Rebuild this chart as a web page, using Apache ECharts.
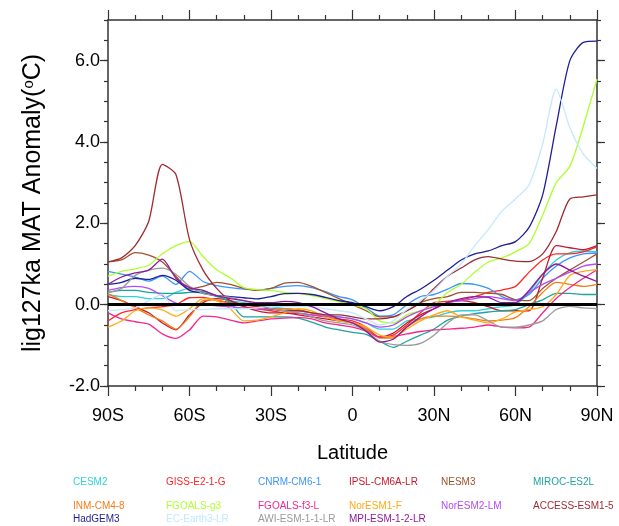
<!DOCTYPE html>
<html>
<head>
<meta charset="utf-8">
<script src="https://cdn.jsdelivr.net/npm/echarts@6/dist/echarts.min.js"></script>
<style>
  html, body { margin: 0; padding: 0; background: #fff; }
  #chart { width: 619px; height: 526px; }
</style>
</head>
<body>
<div id="chart"></div>
<script>
// 纬度 (-90 .. 90, 每5度)
const lats = [-90, -85, -80, -75, -70, -65, -60, -55, -50, -45, -40, -35, -30, -25, -20, -15, -10, -5, 0,
  5, 10, 15, 20, 25, 30, 35, 40, 45, 50, 55, 60, 65, 70, 75, 80, 85, 90];

// 各模式的年平均温度距平 (°C)
const cesm2 = [0.25, 0.2, 0.2, 0.15, 0.15, 0.3, 0.4, 0.3, 0.2, 0.1, 0.05, 0.0, -0.05, -0.1, -0.15, -0.2, -0.25, -0.3, -0.35,
  -0.45, -0.6, -0.6, -0.4, -0.35, -0.3, -0.2, -0.15, -0.15, -0.1, -0.05, 0.0, 0.3, 0.75, 1.1, 1.28, 1.32, 1.3];
const giss = [-0.4, -0.2, -0.12, -0.08, -0.05, 0.0, 0.17, 0.18, 0.1, 0.05, -0.05, -0.1, -0.15, -0.2, -0.22, -0.25, -0.3, -0.35, -0.4,
  -0.55, -0.8, -0.75, -0.5, -0.2, 0.05, 0.08, 0.12, 0.2, 0.3, 0.36, 0.45, 0.8, 1.1, 1.25, 1.25, 1.3, 1.42];
const cnrm = [0.82, 0.75, 0.68, 0.58, 0.7, 0.5, 0.82, 0.57, 0.47, 0.42, 0.38, 0.36, 0.4, 0.45, 0.47, 0.42, 0.32, 0.2, 0.12,
  -0.08, -0.28, -0.25, 0.0, 0.2, 0.25, 0.38, 0.52, 0.5, 0.4, 0.2, 0.12, 0.25, 0.65, 0.95, 1.15, 1.25, 1.27];
const ipsl = [0.2, 0.1, -0.05, -0.2, -0.45, -0.62, -0.25, 0.05, 0.15, 0.1, -0.05, -0.15, -0.2, -0.2, -0.25, -0.3, -0.35, -0.4, -0.45,
  -0.6, -0.8, -0.7, -0.45, -0.25, -0.1, 0.05, 0.1, 0.05, -0.05, -0.15, -0.15, -0.15, 0.65, 1.45, 1.4, 1.35, 1.45];
const nesm3 = [1.05, 1.1, 1.28, 1.22, 1.05, 0.7, 0.38, 0.45, 0.55, 0.5, 0.4, 0.35, 0.4, 0.53, 0.55, 0.45, 0.3, 0.15, 0.0,
  -0.15, -0.3, -0.3, -0.15, 0.05, 0.15, 0.2, 0.3, 0.3, 0.28, 0.25, 0.12, 0.1, 0.4, 0.65, 0.85, 1.05, 1.25];
const miroc = [0.3, 0.35, 0.35, 0.3, 0.28, 0.28, 0.3, 0.32, 0.22, 0.05, -0.3, -0.3, -0.3, -0.3, -0.33, -0.43, -0.55, -0.62, -0.68,
  -0.73, -0.9, -1.05, -0.9, -0.75, -0.6, -0.38, -0.28, -0.22, -0.18, -0.15, -0.12, 0.0, 0.12, 0.28, 0.28, 0.25, 0.25];
const inm = [0.27, 0.1, -0.08, -0.25, -0.4, -0.6, -0.3, 0.1, 0.12, 0.02, 0.0, -0.05, -0.1, -0.1, -0.12, -0.2, -0.3, -0.38, -0.45,
  -0.6, -0.82, -0.82, -0.55, -0.35, -0.28, -0.28, -0.3, -0.35, -0.4, -0.38, -0.32, -0.05, 0.3, 0.55, 0.5, 0.45, 0.5];
const fgoalsG3 = [0.7, 0.82, 0.88, 0.97, 1.25, 1.45, 1.55, 1.18, 0.86, 0.66, 0.42, 0.37, 0.35, 0.3, 0.28, 0.22, 0.15, 0.07, 0.0,
  -0.1, -0.4, -0.45, -0.25, -0.15, 0.0, 0.3, 0.5, 0.8, 1.05, 1.15, 1.3, 1.5, 2.2, 3.0, 3.4, 4.4, 5.55];
const fgoalsF3 = [-0.2, -0.35, -0.42, -0.48, -0.72, -0.83, -0.62, -0.28, -0.3, -0.38, -0.45, -0.4, -0.35, -0.33, -0.32, -0.35, -0.45, -0.5, -0.55,
  -0.65, -0.8, -0.78, -0.72, -0.66, -0.62, -0.6, -0.58, -0.55, -0.5, -0.55, -0.57, -0.55, -0.2, 0.15, 0.42, 0.65, 0.86];
const noresm1 = [-0.55, -0.4, -0.15, -0.08, -0.13, -0.28, -0.1, 0.15, 0.1, -0.1, -0.4, -0.38, -0.3, -0.2, -0.1, -0.15, -0.3, -0.4, -0.45,
  -0.55, -0.75, -0.8, -0.6, -0.4, -0.25, -0.15, -0.3, -0.38, -0.45, -0.35, -0.18, -0.12, -0.05, 0.25, 0.72, 0.82, 0.86];
const noresm2 = [0.35, 0.42, 0.45, 0.4, 0.22, 0.04, 0.0, 0.0, -0.03, -0.05, -0.08, -0.1, -0.12, -0.15, -0.2, -0.25, -0.28, -0.3, -0.35,
  -0.45, -0.55, -0.5, -0.3, -0.15, -0.05, 0.05, 0.1, 0.15, 0.2, 0.15, 0.1, 0.3, 0.5, 0.65, 0.8, 0.95, 1.0];
const access = [1.05, 1.15, 1.45, 2.05, 3.45, 3.2, 1.6, 0.85, 0.4, 0.1, 0.0, -0.05, -0.1, -0.15, -0.15, -0.2, -0.25, -0.25, -0.3,
  -0.35, -0.35, -0.3, -0.15, 0.05, 0.4, 0.7, 0.9, 1.1, 1.18, 1.12, 1.07, 1.06, 1.25, 1.8, 2.6, 2.65, 2.7];
const hadgem3 = [0.5, 0.55, 0.65, 0.62, 0.72, 0.6, 0.35, 0.28, 0.22, 0.2, 0.17, 0.14, 0.2, 0.27, 0.28, 0.25, 0.18, 0.1, 0.05,
  -0.05, -0.15, -0.05, 0.2, 0.38, 0.6, 0.85, 1.1, 1.25, 1.32, 1.45, 1.55, 1.9, 2.7, 4.4, 6.0, 6.45, 6.48];
const ecEarth = [-0.15, -0.12, -0.08, 0.1, 0.25, -0.15, -0.12, -0.12, -0.1, -0.1, -0.1, -0.08, -0.05, -0.05, -0.05, -0.05, -0.1, -0.15, -0.2,
  -0.35, -0.5, -0.4, -0.12, 0.1, 0.35, 0.7, 1.0, 1.45, 1.85, 2.3, 2.6, 2.95, 3.95, 5.3, 4.35, 3.7, 3.35];
const awi = [0.3, 0.4, 0.72, 0.85, 0.9, 0.75, 0.45, 0.28, 0.22, 0.18, 0.1, 0.0, -0.1, -0.15, -0.2, -0.3, -0.4, -0.45, -0.5,
  -0.65, -0.9, -0.98, -1.0, -0.95, -0.75, -0.45, -0.25, -0.25, -0.4, -0.55, -0.55, -0.5, -0.4, -0.12, -0.04, -0.08, -0.1];
const mpi = [0.5, 0.68, 0.78, 0.85, 1.12, 0.65, 0.42, 0.35, 0.22, 0.15, 0.1, 0.05, 0.05, 0.08, 0.05, -0.05, -0.2, -0.35, -0.45,
  -0.65, -0.92, -0.85, -0.55, -0.3, -0.1, 0.05, 0.15, 0.2, 0.18, 0.05, 0.05, 0.35, 0.75, 1.0, 0.85, 0.7, 0.57];

const modelNames = ['CESM2', 'GISS-E2-1-G', 'CNRM-CM6-1', 'IPSL-CM6A-LR', 'NESM3', 'MIROC-ES2L',
  'INM-CM4-8', 'FGOALS-g3', 'FGOALS-f3-L', 'NorESM1-F', 'NorESM2-LM', 'ACCESS-ESM1-5',
  'HadGEM3', 'EC-Earth3-LR', 'AWI-ESM-1-1-LR', 'MPI-ESM-1-2-LR'];
const modelValues = [cesm2, giss, cnrm, ipsl, nesm3, miroc, inm, fgoalsG3, fgoalsF3, noresm1, noresm2, access,
  hadgem3, ecEarth, awi, mpi];

// y轴主刻度
const yMajorTicks = [-2, 0, 2, 4, 6];

// 样式
const colors = ['#2ED2D6', '#FF2626', '#3A93FF', '#C41A2C', '#A0522D', '#1FA3A0',
  '#F27D18', '#ADFF2F', '#F5268C', '#FFAA14', '#B44CF2', '#9E2B30',
  '#1E1E96', '#C3E8FF', '#9A9A9A', '#8E1A9A'];
const legendCols = [73, 166, 258, 349, 441, 533];
const legendRows = [482, 506, 519];
const FONT = '"Liberation Sans", Arial, Helvetica, sans-serif';
const AXIS_COLOR = '#333';

const chart = echarts.init(document.getElementById('chart'));

const latLabel = (v) => {
    if (v < 0) return (-v) + 'S';
    if (v > 0) return v + 'N';
    return '0';
};

const xAxisBase = {
    type: 'value',
    min: -90,
    max: 90,
    interval: 30,
    axisLine: { show: true, onZero: false, lineStyle: { color: AXIS_COLOR, width: 1.5 } },
    axisTick: { show: true, inside: false, length: 10, lineStyle: { color: AXIS_COLOR, width: 1.2 } },
    minorTick: { show: true, splitNumber: 3, length: 5, lineStyle: { color: AXIS_COLOR, width: 1.2 } },
    splitLine: { show: false }
};

const yMajor = {
    type: 'value',
    min: -2,
    max: 7,
    interval: 0.5,
    axisLine: { show: true, onZero: false, lineStyle: { color: AXIS_COLOR, width: 1.5 } },
    axisTick: { show: true, inside: false, length: 8, customValues: yMajorTicks, lineStyle: { color: AXIS_COLOR, width: 1.2 } },
    splitLine: { show: false }
};

const yMinor = {
    type: 'value',
    min: -2,
    max: 7,
    interval: 0.5,
    axisLine: { show: false, onZero: false },
    axisTick: { show: true, inside: false, length: 4, lineStyle: { color: AXIS_COLOR, width: 1.2 } },
    axisLabel: { show: false },
    splitLine: { show: false }
};

const series = modelNames.map((name, i) => ({
    name: name,
    type: 'line',
    xAxisIndex: 0,
    yAxisIndex: 0,
    symbol: 'none',
    smooth: 0.25,
    lineStyle: { color: colors[i], width: 1.3 },
    data: lats.map((lat, j) => [lat, modelValues[i][j]])
}));

// 零线
series.push({
    name: 'zero',
    type: 'line',
    data: [],
    z: 10,
    markLine: {
        silent: true,
        symbol: 'none',
        label: { show: false },
        lineStyle: { color: '#000', width: 3, type: 'solid' },
        data: [{ yAxis: 0 }]
    }
});

// 图例 (彩色文字)
const legendTexts = modelNames.map((name, i) => ({
    type: 'text',
    x: legendCols[i % 6],
    y: legendRows[Math.floor(i / 6)],
    style: {
        text: name,
        fill: colors[i],
        fontSize: 10,
        fontFamily: FONT,
        verticalAlign: 'middle'
    }
}));

chart.setOption({
    animation: false,
    backgroundColor: '#fff',
    grid: { left: 108, right: 22, top: 20, bottom: 140 },
    xAxis: [
        Object.assign({}, xAxisBase, {
            position: 'bottom',
            name: 'Latitude',
            nameLocation: 'middle',
            nameGap: 57,
            nameTextStyle: { fontSize: 20, fontFamily: FONT, color: '#000' },
            axisLabel: { formatter: latLabel, fontSize: 18, fontFamily: FONT, color: '#000', margin: 21 }
        }),
        Object.assign({}, xAxisBase, {
            position: 'top',
            axisLabel: { show: false }
        })
    ],
    yAxis: [
        Object.assign({}, yMajor, {
            position: 'left',
            name: 'lig127ka MAT Anomaly({sup|o}C)',
            nameLocation: 'middle',
            nameGap: 62,
            nameTextStyle: {
                fontSize: 25, fontFamily: FONT, color: '#000',
                rich: { sup: { fontSize: 15, fontFamily: FONT, color: '#000', verticalAlign: 'top', padding: [0, 0, 9, 0] } }
            },
            axisLabel: {
                customValues: yMajorTicks,
                formatter: (v) => v.toFixed(1),
                fontSize: 18, fontFamily: FONT, color: '#000', margin: 8
            }
        }),
        Object.assign({}, yMinor, { position: 'left' }),
        Object.assign({}, yMajor, { position: 'right', axisLabel: { show: false } }),
        Object.assign({}, yMinor, { position: 'right' })
    ],
    series: series,
    graphic: legendTexts
});

window.addEventListener('resize', () => {
    chart.resize();
});
</script>
</body>
</html>
